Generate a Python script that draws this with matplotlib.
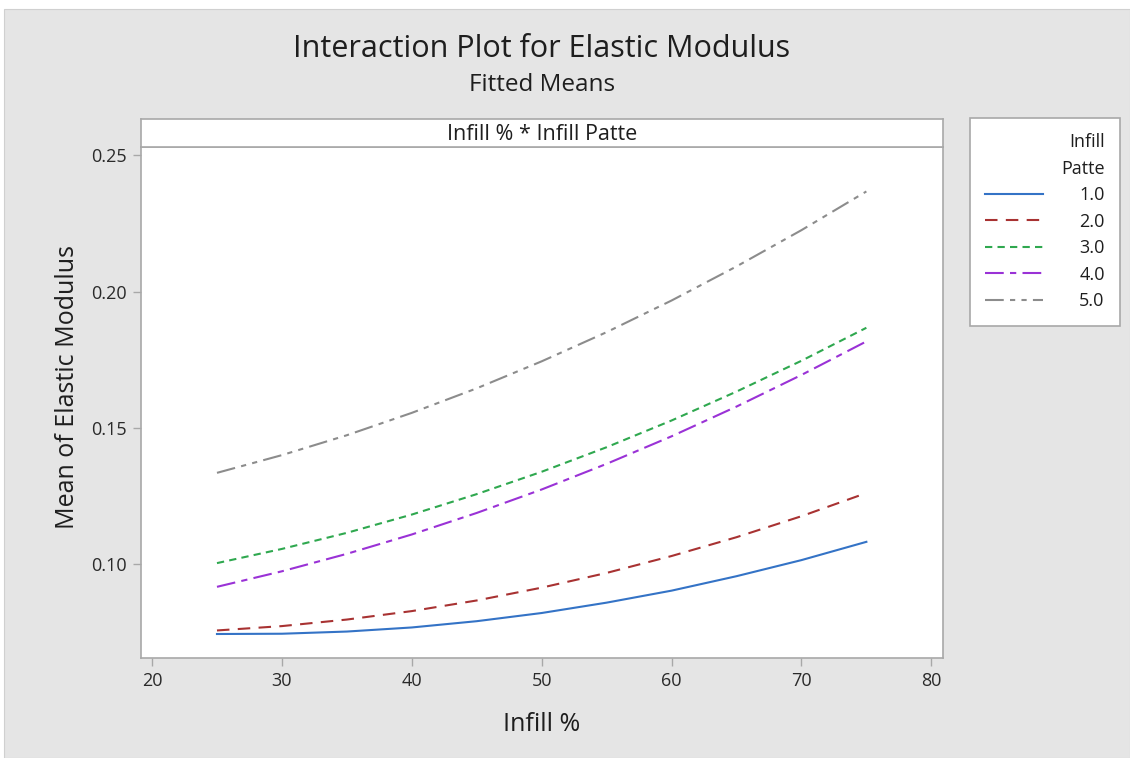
import matplotlib
matplotlib.use("Agg")
import matplotlib.pyplot as plt
from matplotlib.patches import Rectangle

plt.rcParams['font.family'] = ['Open Sans', 'DejaVu Sans']

# fitted means of elastic modulus by infill % for each infill pattern
infill = [25, 30, 35, 40, 45, 50, 55, 60, 65, 70, 75]
pattern_1 = [0.0745, 0.0746, 0.0754, 0.0769, 0.0792, 0.0822, 0.0860, 0.0904, 0.0957, 0.1016, 0.1083]
pattern_2 = [0.0758, 0.0774, 0.0798, 0.0829, 0.0868, 0.0915, 0.0969, 0.1031, 0.1100, 0.1177, 0.1262]
pattern_3 = [0.1005, 0.1057, 0.1116, 0.1183, 0.1258, 0.1340, 0.1430, 0.1528, 0.1634, 0.1747, 0.1868]
pattern_4 = [0.0918, 0.0975, 0.1039, 0.1110, 0.1189, 0.1275, 0.1369, 0.1470, 0.1579, 0.1695, 0.1818]
pattern_5 = [0.1336, 0.1401, 0.1474, 0.1556, 0.1646, 0.1745, 0.1852, 0.1968, 0.2093, 0.2226, 0.2368]
labels = ["1.0", "2.0", "3.0", "4.0", "5.0"]

xticks = [20, 30, 40, 50, 60, 70, 80]
yticks = [0.10, 0.15, 0.20, 0.25]

series = [pattern_1, pattern_2, pattern_3, pattern_4, pattern_5]
colors = ['#3473c6', '#a83232', '#2fa84f', '#9a32d6', '#8c8c8c']
styles = ['-', (0, (6, 4)), (0, (3.5, 2.5)), (0, (9, 3, 3, 3)), (0, (9, 3, 2.5, 3, 2.5, 3))]

W, H = 1130, 758
fig = plt.figure(figsize=(W / 100, H / 100), dpi=100, facecolor='white')
fig.patches.append(Rectangle((4 / W, 0), 1 - 4 / W, 1 - 9 / H, transform=fig.transFigure,
                             facecolor='#e5e5e5', edgecolor='#d0d0d0', lw=0.8, zorder=-10))

gray = '#a8a8a8'
txt = '#1e1e1e'

ax = fig.add_axes([141 / W, 1 - 658 / H, 802 / W, 511 / H])
for x, y, c, s in zip([infill] * 5, series, colors, styles):
    ax.plot(x, y, color=c, linestyle=s, lw=1.5)
ax.set_xlim(19.15, 80.9)
ax.set_ylim(0.0657, 0.2531)
ax.set_xticks(xticks)
ax.set_yticks(yticks)
ax.set_yticklabels([f"{v:.2f}" for v in yticks])
for sp in ax.spines.values():
    sp.set_color(gray)
    sp.set_linewidth(1.2)
ax.tick_params(colors=gray, labelcolor='#2a2a2a', labelsize=13, length=6, width=1, pad=4)
ax.set_xlabel("Infill %", fontsize=18, color=txt, labelpad=16)
ax.set_ylabel("Mean of Elastic Modulus", fontsize=18, color=txt, labelpad=8, y=0.53)

# panel strip above the plot
strip = fig.add_axes([141 / W, 1 - 147 / H, 802 / W, 28 / H])
strip.set_xticks([])
strip.set_yticks([])
for sp in strip.spines.values():
    sp.set_color(gray)
    sp.set_linewidth(1.2)
strip.text(0.5, 0.45, "Infill % * Infill Patte", ha='center', va='center', fontsize=15.5, color=txt)

fig.text(542 / W, 1 - 49 / H, "Interaction Plot for Elastic Modulus", ha='center', va='center',
         fontsize=22, color=txt)
fig.text(542 / W, 1 - 85 / H, "Fitted Means", ha='center', va='center', fontsize=17.5, color=txt)

leg = fig.legend(ax.get_lines(), labels, title="Infill\nPatte", loc='upper left',
                 bbox_to_anchor=(970 / W, 1 - 118 / H), borderaxespad=0,
                 fontsize=13, title_fontsize=13,
                 alignment='right', handlelength=3.2, handletextpad=2.0, labelspacing=0.47,
                 borderpad=0.85, fancybox=False, framealpha=1, edgecolor=gray)
leg.get_frame().set_linewidth(1.2)
for t in leg.get_texts():
    t.set_color(txt)
leg.get_title().set_color(txt)
leg.get_title().set_multialignment('right')
leg.get_title().set_linespacing(1.6)

fig.savefig("out.png", dpi=100, facecolor=fig.get_facecolor())
